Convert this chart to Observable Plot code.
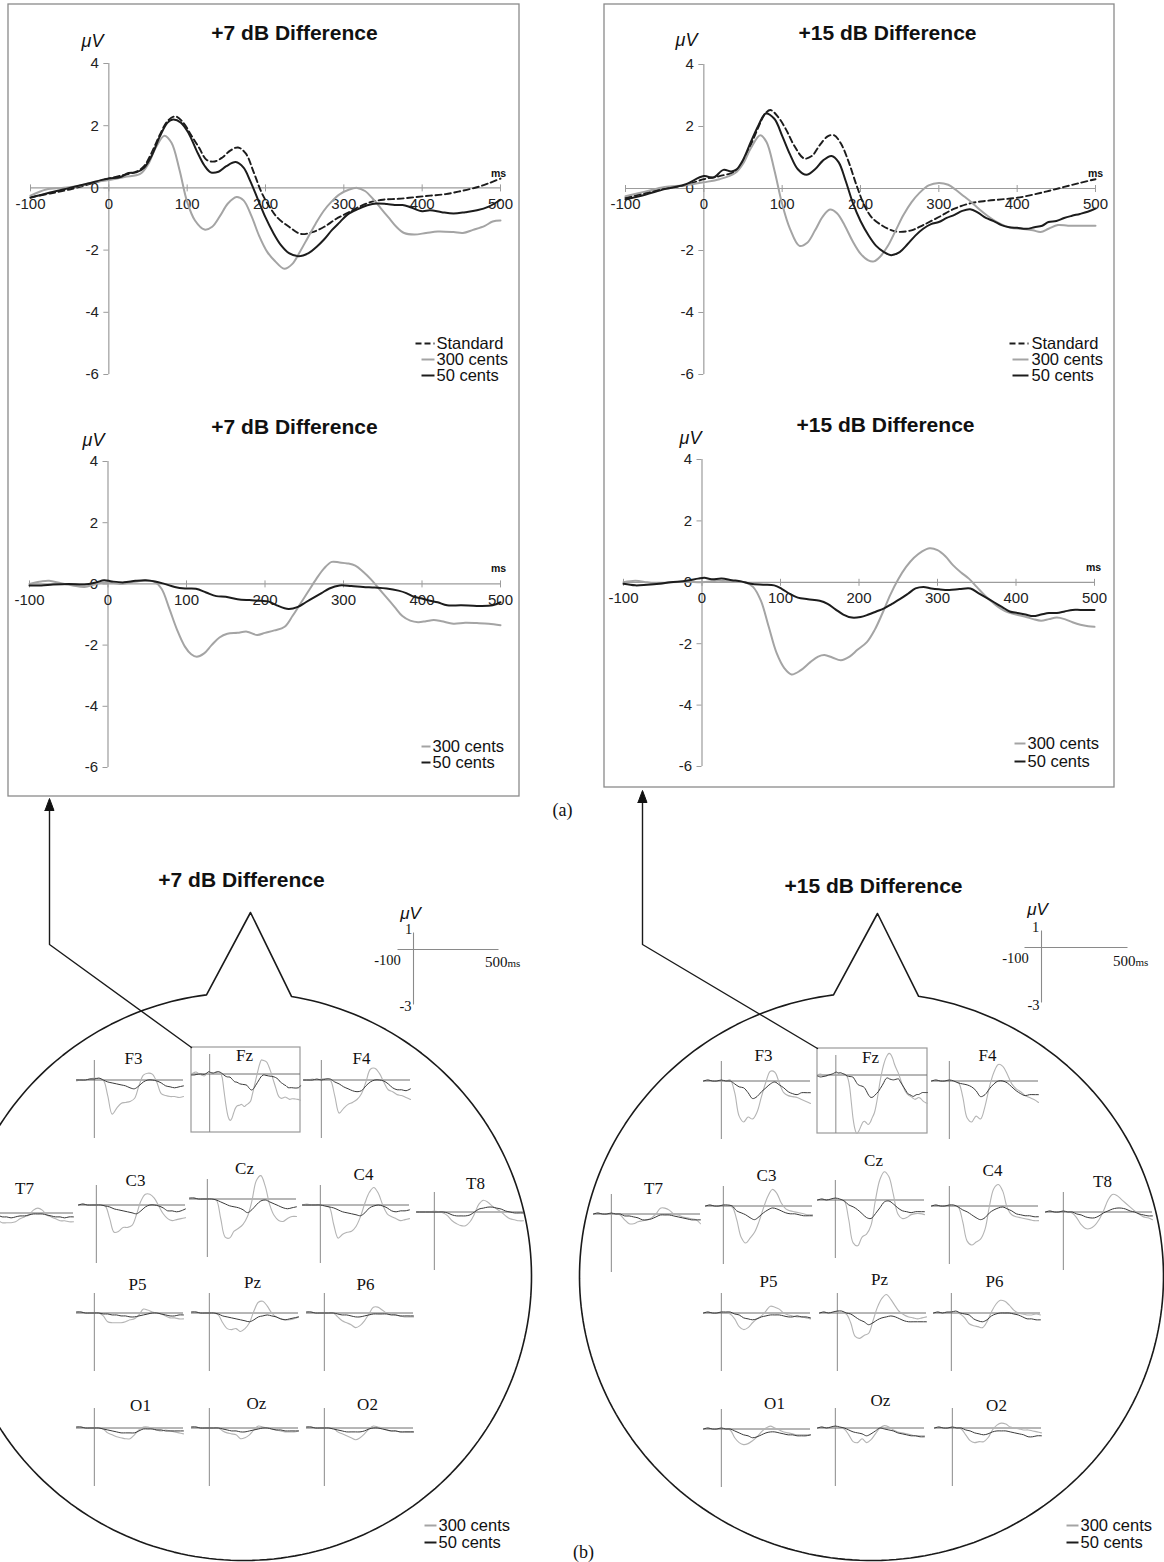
<!DOCTYPE html>
<html><head><meta charset="utf-8">
<script src="https://cdn.jsdelivr.net/npm/d3@7"></script>
<script src="https://cdn.jsdelivr.net/npm/@observablehq/plot@0.6"></script>
<style>
html,body{margin:0;padding:0;background:#fff;}
#page{position:relative;width:1164px;height:1562px;overflow:hidden;background:#fff;}
#page svg{position:absolute;}
</style></head><body><div id="page"></div>
<script>
// ---------- DATA ----------
const X_TICKS = [-100, 0, 100, 200, 300, 400, 500];
const Y_TICKS = [4, 2, 0, -2, -4, -6];
const SERIES_NAMES = ["Standard", "300 cents", "50 cents"];

// +7 dB, upper panel (grand averages) [ms, µV]
const UL_STANDARD = [[-100,-0.3],[-75,-0.18],[-50,-0.05],[-25,0.12],[0,0.3],[20,0.42],[35,0.52],[45,0.7],[55,1.15],[65,1.7],[75,2.15],[85,2.3],[95,2.1],[105,1.7],[115,1.3],[125,0.9],[135,0.85],[145,0.98],[155,1.2],[165,1.3],[175,1.1],[185,0.5],[195,-0.15],[205,-0.6],[215,-0.95],[230,-1.25],[245,-1.48],[260,-1.42],[275,-1.25],[290,-1.0],[305,-0.8],[320,-0.6],[335,-0.45],[350,-0.38],[370,-0.35],[390,-0.3],[410,-0.25],[430,-0.2],[450,-0.1],[470,0.02],[485,0.15],[500,0.3]];
const UL_300 = [[-100,-0.25],[-80,-0.05],[-60,0.0],[-40,0.05],[-20,0.18],[0,0.25],[20,0.35],[40,0.45],[50,0.75],[60,1.3],[71,1.68],[80,1.45],[90,0.6],[100,-0.45],[110,-1.05],[122,-1.34],[132,-1.25],[142,-0.9],[152,-0.5],[163,-0.29],[172,-0.4],[182,-0.9],[192,-1.55],[202,-2.05],[212,-2.35],[224,-2.6],[234,-2.45],[244,-2.05],[254,-1.6],[264,-1.15],[274,-0.75],[284,-0.45],[295,-0.2],[307,-0.05],[317,0.0],[327,-0.1],[337,-0.35],[347,-0.65],[357,-0.95],[367,-1.25],[377,-1.45],[390,-1.5],[405,-1.45],[420,-1.4],[440,-1.42],[452,-1.45],[465,-1.35],[480,-1.22],[490,-1.08],[500,-1.05]];
const UL_50 = [[-100,-0.32],[-75,-0.15],[-50,0.0],[-25,0.15],[-10,0.25],[0,0.3],[15,0.35],[25,0.48],[35,0.5],[45,0.65],[55,1.05],[65,1.65],[75,2.1],[82,2.2],[92,2.1],[102,1.75],[112,1.2],[122,0.72],[130,0.5],[140,0.52],[150,0.7],[162,0.83],[172,0.65],[180,0.25],[190,-0.35],[200,-0.95],[210,-1.45],[220,-1.85],[230,-2.1],[242,-2.2],[255,-2.1],[265,-1.9],[275,-1.65],[285,-1.35],[295,-1.1],[305,-0.85],[318,-0.68],[330,-0.56],[342,-0.5],[355,-0.52],[365,-0.55],[375,-0.55],[385,-0.62],[400,-0.75],[410,-0.72],[425,-0.78],[440,-0.82],[455,-0.78],[470,-0.72],[485,-0.6],[500,-0.38]];

// +15 dB, upper panel
const UR_STANDARD = [[-100,-0.3],[-75,-0.15],[-50,0.0],[-25,0.1],[0,0.3],[20,0.4],[40,0.55],[50,0.85],[60,1.4],[70,2.0],[78,2.4],[85,2.53],[95,2.3],[105,1.9],[115,1.4],[128,0.97],[138,1.05],[148,1.4],[158,1.68],[166,1.72],[175,1.45],[185,0.85],[195,0.1],[205,-0.55],[215,-0.95],[228,-1.2],[240,-1.35],[250,-1.4],[265,-1.35],[280,-1.18],[300,-0.92],[320,-0.65],[340,-0.48],[360,-0.4],[380,-0.35],[400,-0.3],[420,-0.2],[440,-0.08],[460,0.05],[480,0.18],[500,0.3]];
const UR_300 = [[-100,-0.25],[-75,-0.1],[-50,0.05],[-25,0.1],[0,0.2],[20,0.3],[40,0.5],[50,0.8],[60,1.3],[72,1.72],[80,1.5],[90,0.6],[100,-0.5],[110,-1.3],[122,-1.85],[132,-1.75],[142,-1.35],[152,-0.9],[161,-0.68],[170,-0.8],[180,-1.2],[190,-1.7],[200,-2.1],[210,-2.32],[217,-2.35],[225,-2.2],[235,-1.85],[245,-1.35],[255,-0.85],[265,-0.45],[275,-0.15],[287,0.1],[300,0.18],[312,0.12],[322,-0.05],[332,-0.25],[342,-0.45],[352,-0.68],[362,-0.88],[372,-1.05],[382,-1.18],[392,-1.27],[405,-1.3],[420,-1.35],[430,-1.4],[440,-1.3],[452,-1.18],[465,-1.2],[480,-1.2],[500,-1.2]];
const UR_50 = [[-100,-0.35],[-75,-0.2],[-50,-0.02],[-25,0.12],[0,0.4],[12,0.35],[25,0.6],[35,0.55],[42,0.62],[50,0.92],[60,1.5],[70,2.05],[79,2.42],[90,2.25],[100,1.7],[110,1.1],[120,0.62],[131,0.44],[142,0.62],[152,0.9],[163,1.05],[172,0.85],[181,0.25],[190,-0.45],[200,-1.05],[210,-1.5],[220,-1.85],[230,-2.05],[239,-2.15],[250,-2.05],[260,-1.8],[270,-1.52],[280,-1.3],[290,-1.15],[300,-1.08],[310,-0.95],[320,-0.85],[330,-0.72],[340,-0.67],[350,-0.78],[360,-0.95],[370,-1.05],[380,-1.18],[390,-1.25],[400,-1.27],[412,-1.3],[422,-1.25],[432,-1.2],[440,-1.08],[450,-1.05],[460,-0.95],[470,-0.88],[480,-0.82],[490,-0.75],[500,-0.65]];

// +7 dB, lower panel (difference waves, Fz)
const LL_300 = [[-100,0.0],[-85,0.08],[-75,0.1],[-60,0.02],[-45,-0.05],[-30,-0.1],[-15,0.0],[0,0.05],[15,0.0],[30,0.05],[45,0.1],[58,0.08],[68,-0.15],[78,-0.8],[88,-1.5],[98,-2.05],[106,-2.3],[113,-2.38],[122,-2.28],[132,-2.0],[142,-1.75],[152,-1.63],[165,-1.6],[177,-1.56],[190,-1.67],[200,-1.6],[212,-1.52],[225,-1.4],[235,-1.05],[245,-0.65],[255,-0.25],[265,0.15],[275,0.5],[285,0.72],[295,0.7],[305,0.67],[315,0.6],[325,0.4],[335,0.15],[345,-0.15],[355,-0.45],[365,-0.75],[375,-1.05],[385,-1.2],[395,-1.25],[405,-1.22],[415,-1.18],[425,-1.22],[440,-1.3],[455,-1.27],[470,-1.28],[485,-1.3],[500,-1.35]];
const LL_50 = [[-100,-0.05],[-85,-0.05],[-70,-0.02],[-50,0.0],[-30,-0.02],[-15,0.05],[-5,0.12],[5,0.08],[20,0.05],[35,0.1],[48,0.12],[60,0.08],[72,0.0],[85,-0.1],[98,-0.15],[112,-0.16],[125,-0.28],[138,-0.4],[150,-0.42],[165,-0.5],[180,-0.53],[195,-0.55],[205,-0.58],[215,-0.7],[230,-0.82],[242,-0.75],[252,-0.6],[262,-0.45],[272,-0.3],[282,-0.15],[295,-0.05],[310,-0.07],[325,-0.1],[340,-0.12],[355,-0.15],[370,-0.22],[380,-0.3],[390,-0.42],[400,-0.48],[410,-0.55],[420,-0.6],[432,-0.7],[450,-0.7],[470,-0.72],[490,-0.7],[500,-0.6]];

// +15 dB, lower panel (difference waves, Fz)
const LR_300 = [[-100,0.0],[-85,0.05],[-70,0.0],[-55,-0.05],[-40,0.0],[-20,0.02],[0,0.0],[20,0.05],[40,0.02],[55,0.0],[65,-0.15],[75,-0.6],[85,-1.45],[95,-2.3],[105,-2.8],[114,-3.0],[125,-2.88],[138,-2.6],[148,-2.42],[156,-2.37],[166,-2.45],[177,-2.54],[188,-2.42],[198,-2.2],[210,-1.95],[220,-1.55],[230,-1.0],[240,-0.4],[250,0.1],[260,0.5],[270,0.8],[280,1.0],[290,1.11],[300,1.05],[310,0.85],[320,0.55],[330,0.32],[340,0.12],[350,-0.15],[360,-0.42],[370,-0.65],[380,-0.85],[390,-0.98],[400,-1.05],[412,-1.12],[422,-1.2],[432,-1.25],[442,-1.2],[452,-1.15],[462,-1.2],[472,-1.3],[482,-1.38],[492,-1.43],[500,-1.45]];
const LR_50 = [[-100,-0.05],[-85,-0.1],[-70,-0.08],[-55,-0.05],[-40,0.0],[-20,0.05],[-5,0.12],[3,0.15],[12,0.1],[25,0.12],[38,0.07],[50,0.03],[62,-0.05],[78,-0.08],[92,-0.1],[102,-0.22],[112,-0.38],[122,-0.5],[135,-0.55],[150,-0.6],[160,-0.7],[170,-0.88],[180,-1.05],[191,-1.15],[202,-1.13],[212,-1.05],[222,-0.95],[232,-0.85],[242,-0.7],[252,-0.55],[262,-0.38],[272,-0.2],[282,-0.15],[292,-0.2],[302,-0.23],[315,-0.25],[328,-0.22],[342,-0.2],[352,-0.35],[362,-0.5],[372,-0.65],[382,-0.8],[392,-0.95],[402,-1.0],[412,-1.05],[422,-1.1],[432,-1.05],[442,-1.0],[452,-1.0],[462,-0.95],[472,-0.9],[482,-0.9],[500,-0.9]];

// Electrode mini plots (difference waves), sampled every 25 ms
const MINI_T = [-100,-75,-50,-25,0,25,50,75,100,125,150,175,200,225,250,275,300,325,350,375,400,425,450,475,500];
// +7 dB head
const L_F3_300 = [-0.05,0.0,0.0,0.05,0.1,0.05,0.0,-0.8,-1.75,-1.45,-1.2,-1.15,-1.1,-0.95,-0.3,0.25,0.35,0.3,-0.1,-0.7,-0.8,-0.85,-0.85,-0.9,-0.85];
const L_F3_50  = [0.0,0.0,0.0,0.05,0.05,0.1,0.0,-0.1,-0.15,-0.2,-0.25,-0.3,-0.4,-0.45,-0.3,-0.1,0.0,0.0,-0.05,-0.15,-0.3,-0.35,-0.4,-0.35,-0.3];
const L_F4_300 = [0.0,0.0,0.05,0.0,0.05,0.05,0.0,-0.8,-1.7,-1.45,-1.25,-1.15,-1.0,-0.7,-0.1,0.55,0.6,0.35,-0.1,-0.5,-0.6,-0.75,-0.8,-0.9,-1.0];
const L_F4_50  = [0.0,0.0,0.0,0.05,0.0,0.05,0.05,-0.1,-0.2,-0.35,-0.45,-0.55,-0.6,-0.55,-0.3,-0.1,0.0,0.0,-0.05,-0.2,-0.4,-0.5,-0.5,-0.55,-0.45];
const L_T7_300 = [0.0,0.05,0.0,0.0,0.0,0.0,-0.05,-0.35,-0.5,-0.5,-0.5,-0.45,-0.3,-0.2,-0.1,0.15,0.25,0.15,-0.1,-0.2,-0.3,-0.4,-0.4,-0.45,-0.45];
const L_T7_50  = [0.0,0.0,0.0,0.0,0.05,0.0,0.0,-0.1,-0.2,-0.2,-0.25,-0.2,-0.15,-0.15,-0.1,-0.05,-0.05,-0.05,-0.1,-0.15,-0.2,-0.2,-0.25,-0.2,-0.2];
const L_C3_300 = [0.0,0.05,0.0,0.0,0.0,0.0,-0.05,-0.7,-1.4,-1.35,-1.15,-1.15,-1.05,-0.5,0.2,0.55,0.55,0.35,-0.05,-0.45,-0.7,-0.8,-0.75,-0.7,-0.65];
const L_C3_50  = [0.0,0.05,0.0,0.0,0.0,0.0,-0.05,-0.1,-0.2,-0.25,-0.3,-0.35,-0.4,-0.45,-0.3,-0.1,0.0,0.0,-0.05,-0.15,-0.3,-0.3,-0.35,-0.3,-0.2];
const L_CZ_300 = [0.0,0.05,0.0,0.0,0.0,0.0,-0.05,-1.0,-1.95,-2.0,-1.65,-1.5,-1.3,-0.9,-0.1,0.95,1.2,0.65,-0.3,-0.85,-1.1,-1.15,-1.0,-0.9,-0.9];
const L_CZ_50  = [0.05,0.05,0.0,0.0,0.0,0.0,-0.05,-0.15,-0.25,-0.35,-0.4,-0.45,-0.55,-0.7,-0.55,-0.3,-0.1,-0.05,-0.15,-0.25,-0.35,-0.45,-0.5,-0.45,-0.4];
const L_C4_300 = [0.0,0.05,0.0,0.0,0.0,0.0,-0.1,-1.0,-1.7,-1.5,-1.4,-1.35,-1.1,-0.6,0.1,0.65,0.9,0.6,0.0,-0.45,-0.6,-0.7,-0.8,-0.75,-0.7];
const L_C4_50  = [0.0,0.0,0.0,0.0,0.0,-0.05,-0.1,-0.15,-0.25,-0.35,-0.4,-0.45,-0.5,-0.55,-0.4,-0.15,-0.05,0.0,-0.05,-0.15,-0.3,-0.35,-0.3,-0.3,-0.25];
const L_T8_300 = [0.0,0.0,0.0,0.0,0.05,0.0,-0.05,-0.2,-0.45,-0.6,-0.7,-0.7,-0.5,-0.1,0.4,0.6,0.5,0.3,0.15,0.0,-0.2,-0.35,-0.4,-0.45,-0.45];
const L_T8_50  = [0.0,0.0,0.0,0.0,0.0,0.0,0.0,-0.05,-0.15,-0.2,-0.2,-0.2,-0.15,0.0,0.15,0.2,0.25,0.25,0.2,0.15,0.05,0.0,-0.05,-0.05,-0.05];
const L_P5_300 = [0.05,0.05,0.0,0.0,0.0,0.0,-0.15,-0.45,-0.5,-0.5,-0.5,-0.45,-0.35,-0.3,-0.1,0.2,0.15,0.05,0.0,-0.05,-0.15,-0.25,-0.25,-0.3,-0.3];
const L_P5_50  = [0.05,0.05,0.0,0.0,0.0,0.0,-0.05,-0.05,-0.1,-0.1,-0.15,-0.15,-0.2,-0.2,-0.15,-0.1,-0.05,0.0,0.0,-0.05,-0.1,-0.15,-0.15,-0.1,-0.1];
const L_PZ_300 = [0.05,0.05,0.0,0.0,0.0,0.0,-0.1,-0.5,-0.8,-0.85,-0.8,-0.95,-0.8,-0.5,0.1,0.55,0.6,0.35,0.0,-0.2,-0.3,-0.35,-0.35,-0.3,-0.2];
const L_PZ_50  = [0.05,0.05,0.0,0.0,0.0,0.0,-0.05,-0.15,-0.2,-0.25,-0.3,-0.35,-0.4,-0.45,-0.35,-0.2,-0.15,-0.1,-0.15,-0.2,-0.3,-0.35,-0.3,-0.25,-0.2];
const L_P6_300 = [0.05,0.05,0.0,0.0,0.0,0.0,0.0,-0.2,-0.4,-0.5,-0.6,-0.75,-0.65,-0.4,-0.05,0.3,0.3,0.15,0.0,-0.05,-0.1,-0.15,-0.2,-0.2,-0.2];
const L_P6_50  = [0.05,0.05,0.0,0.0,0.0,0.0,0.0,-0.05,-0.1,-0.1,-0.15,-0.2,-0.2,-0.15,-0.1,-0.05,-0.05,-0.05,-0.05,-0.1,-0.1,-0.15,-0.15,-0.15,-0.15];
const L_O1_300 = [0.05,0.05,0.0,0.0,0.0,0.0,-0.05,-0.25,-0.35,-0.45,-0.5,-0.55,-0.55,-0.35,-0.1,0.05,0.05,-0.05,-0.1,-0.15,-0.1,-0.15,-0.2,-0.25,-0.3];
const L_O1_50  = [0.05,0.05,0.0,0.0,0.0,0.0,-0.05,-0.1,-0.15,-0.2,-0.25,-0.25,-0.25,-0.25,-0.15,-0.05,-0.05,-0.05,-0.1,-0.1,-0.15,-0.15,-0.15,-0.15,-0.15];
const L_OZ_300 = [0.05,0.05,0.0,0.0,0.0,0.0,0.0,-0.15,-0.25,-0.3,-0.35,-0.55,-0.5,-0.35,-0.1,0.1,0.05,0.0,-0.05,-0.1,-0.15,-0.2,-0.2,-0.2,-0.15];
const L_OZ_50  = [0.05,0.05,0.0,0.0,0.0,0.0,0.0,-0.05,-0.1,-0.15,-0.15,-0.2,-0.2,-0.15,-0.1,-0.05,0.0,0.0,-0.05,-0.1,-0.1,-0.15,-0.15,-0.15,-0.15];
const L_O2_300 = [0.05,0.05,0.0,0.0,0.0,0.0,0.0,-0.2,-0.3,-0.4,-0.5,-0.6,-0.5,-0.3,-0.05,0.1,0.05,0.0,-0.1,-0.15,-0.15,-0.2,-0.2,-0.2,-0.2];
const L_O2_50  = [0.05,0.05,0.0,0.0,0.0,0.0,-0.05,-0.1,-0.15,-0.2,-0.2,-0.2,-0.2,-0.15,-0.05,0.0,0.0,-0.05,-0.1,-0.15,-0.15,-0.2,-0.2,-0.2,-0.2];
// +15 dB head
const R_F3_300 = [0.0,0.05,0.0,0.0,0.0,0.0,0.05,-0.6,-1.8,-2.1,-1.85,-1.95,-1.6,-0.8,-0.05,0.5,0.45,-0.1,-0.6,-0.75,-0.8,-0.85,-0.95,-1.05,-1.15];
const R_F3_50  = [0.0,0.05,0.0,0.0,0.05,0.0,0.0,-0.15,-0.3,-0.35,-0.6,-0.9,-0.8,-0.55,-0.35,-0.15,-0.05,-0.2,-0.35,-0.55,-0.65,-0.7,-0.6,-0.6,-0.6];
const R_F4_300 = [0.0,0.05,0.0,0.0,0.05,0.0,-0.05,-0.8,-1.9,-2.1,-1.8,-1.95,-1.3,-0.3,0.45,0.85,0.75,0.35,-0.15,-0.4,-0.55,-0.75,-0.85,-0.95,-1.1];
const R_F4_50  = [0.0,0.05,0.0,0.0,0.05,0.0,-0.1,-0.15,-0.2,-0.3,-0.5,-0.8,-0.7,-0.4,-0.15,0.0,0.0,-0.1,-0.3,-0.5,-0.65,-0.75,-0.7,-0.7,-0.7];
const R_T7_300 = [0.0,0.05,0.0,0.0,0.0,0.0,-0.05,-0.3,-0.5,-0.5,-0.4,-0.35,-0.3,-0.2,0.0,0.3,0.3,0.2,0.0,-0.05,-0.15,-0.2,-0.25,-0.3,-0.5];
const R_T7_50  = [0.0,0.05,0.0,0.0,0.05,0.0,0.0,-0.1,-0.1,-0.15,-0.2,-0.3,-0.3,-0.25,-0.15,-0.05,-0.05,-0.05,-0.1,-0.15,-0.2,-0.25,-0.3,-0.3,-0.3];
const R_C3_300 = [0.0,0.05,0.0,0.0,0.05,0.0,-0.05,-0.7,-1.6,-1.9,-1.65,-1.35,-0.8,-0.1,0.5,0.85,0.65,0.15,-0.15,-0.25,-0.3,-0.35,-0.4,-0.45,-0.45];
const R_C3_50  = [0.0,0.05,0.0,0.0,0.05,0.05,0.0,-0.25,-0.35,-0.45,-0.6,-0.7,-0.55,-0.35,-0.2,-0.1,-0.15,-0.25,-0.35,-0.4,-0.4,-0.45,-0.5,-0.5,-0.5];
const R_CZ_300 = [0.0,0.05,0.0,0.0,0.05,0.0,-0.05,-1.0,-2.2,-2.35,-1.9,-1.75,-1.3,0.0,1.05,1.45,1.2,0.3,-0.7,-0.95,-0.9,-0.75,-0.7,-0.7,-0.75];
const R_CZ_50  = [0.0,0.05,0.0,0.05,0.1,0.05,-0.05,-0.25,-0.35,-0.5,-0.7,-0.9,-0.95,-0.7,-0.4,-0.1,-0.05,-0.2,-0.4,-0.55,-0.6,-0.65,-0.6,-0.6,-0.6];
const R_C4_300 = [0.0,0.05,0.0,0.0,0.05,0.0,-0.05,-0.8,-1.8,-2.0,-1.85,-1.7,-1.2,0.0,0.9,1.1,0.75,-0.1,-0.45,-0.55,-0.6,-0.65,-0.7,-0.75,-0.75];
const R_C4_50  = [0.0,0.05,0.0,0.0,0.05,0.05,-0.05,-0.2,-0.3,-0.45,-0.6,-0.7,-0.6,-0.35,-0.2,-0.1,-0.05,-0.15,-0.25,-0.4,-0.45,-0.5,-0.5,-0.55,-0.55];
const R_T8_300 = [0.0,0.05,0.0,0.0,0.05,0.0,-0.05,-0.3,-0.65,-0.85,-0.85,-0.7,-0.4,0.05,0.6,0.9,0.85,0.65,0.45,0.25,0.05,-0.1,-0.25,-0.3,-0.4];
const R_T8_50  = [0.0,0.05,0.0,0.0,0.05,0.0,0.0,-0.1,-0.15,-0.25,-0.3,-0.3,-0.2,-0.05,0.05,0.15,0.2,0.2,0.15,0.05,0.0,-0.1,-0.15,-0.2,-0.2];
const R_P5_300 = [0.0,0.05,0.0,0.0,0.05,0.0,-0.05,-0.3,-0.7,-0.85,-0.75,-0.5,-0.3,-0.15,0.1,0.35,0.3,0.2,0.0,-0.1,-0.15,-0.2,-0.2,-0.25,-0.3];
const R_P5_50  = [0.0,0.05,0.0,0.0,0.05,0.05,0.05,-0.05,-0.1,-0.25,-0.3,-0.35,-0.3,-0.2,-0.15,-0.1,-0.1,-0.1,-0.15,-0.2,-0.2,-0.15,-0.2,-0.2,-0.25];
const R_PZ_300 = [0.0,0.05,0.0,0.0,0.05,0.0,-0.05,-0.5,-1.2,-1.3,-1.15,-1.05,-0.4,0.3,0.75,0.95,0.7,0.35,0.05,-0.1,-0.2,-0.25,-0.3,-0.25,-0.2];
const R_PZ_50  = [0.0,0.05,0.0,0.05,0.1,0.1,0.0,-0.05,-0.2,-0.35,-0.45,-0.6,-0.5,-0.35,-0.25,-0.2,-0.15,-0.2,-0.3,-0.4,-0.45,-0.45,-0.45,-0.45,-0.45];
const R_P6_300 = [0.0,0.05,0.0,0.0,0.05,0.0,-0.05,-0.25,-0.55,-0.65,-0.7,-0.75,-0.45,0.05,0.45,0.65,0.6,0.4,0.15,0.0,-0.05,-0.1,-0.1,-0.05,-0.1];
const R_P6_50  = [0.0,0.05,0.0,0.05,0.05,0.1,0.0,-0.05,-0.1,-0.3,-0.4,-0.45,-0.35,-0.15,-0.05,0.0,0.0,0.0,-0.05,-0.1,-0.2,-0.3,-0.3,-0.35,-0.35];
const R_O1_300 = [0.0,0.05,0.0,0.0,0.05,0.0,-0.05,-0.45,-0.7,-0.8,-0.75,-0.6,-0.4,-0.15,0.05,0.15,0.05,-0.05,-0.15,-0.2,-0.25,-0.3,-0.3,-0.3,-0.3];
const R_O1_50  = [0.0,0.05,0.0,0.0,0.05,0.0,0.0,-0.1,-0.2,-0.3,-0.35,-0.45,-0.4,-0.3,-0.2,-0.15,-0.15,-0.2,-0.25,-0.3,-0.3,-0.35,-0.35,-0.35,-0.3];
const R_OZ_300 = [0.0,0.05,0.0,0.0,0.05,0.0,-0.05,-0.35,-0.7,-0.75,-0.55,-0.75,-0.6,-0.3,0.0,0.12,0.05,-0.1,-0.2,-0.25,-0.3,-0.35,-0.4,-0.4,-0.4];
const R_OZ_50  = [0.0,0.05,0.0,0.05,0.1,0.05,0.0,-0.1,-0.2,-0.25,-0.3,-0.4,-0.3,-0.15,0.0,-0.05,-0.1,-0.15,-0.25,-0.3,-0.35,-0.4,-0.4,-0.45,-0.45];
const R_O2_300 = [0.0,0.05,0.0,0.0,0.05,0.0,-0.05,-0.35,-0.65,-0.75,-0.7,-0.7,-0.5,-0.1,0.15,0.25,0.2,0.05,0.0,-0.05,-0.1,-0.1,-0.15,-0.2,-0.25];
const R_O2_50  = [0.0,0.05,0.0,0.0,0.05,0.0,0.0,-0.1,-0.15,-0.25,-0.3,-0.35,-0.3,-0.2,-0.15,-0.15,-0.15,-0.2,-0.25,-0.3,-0.35,-0.45,-0.45,-0.4,-0.4];

// ---------- STYLE / LAYOUT ----------
const SANS = "'Liberation Sans', Arial, Helvetica, sans-serif";
const SERIF = "'Liberation Serif', 'Times New Roman', serif";
const GREY = "#a4a4a4", DARK = "#1c1c1c", AXIS = "#9c9c9c";
const MGREY = "#b4b4b4", MDARK = "#3a3a3a";
const page = document.getElementById("page");

function place(svg, left, top) {
  svg.style.position = "absolute";
  svg.style.left = left + "px";
  svg.style.top = top + "px";
  svg.style.background = "transparent";
  svg.style.overflow = "visible";
  svg.style.maxWidth = "none";
  page.appendChild(svg);
}
const pairs = arr => arr.map(([t, v]) => ({t, v}));
const sampled = arr => MINI_T.map((t, i) => ({t, v: arr[i]}));

function bigPanel(cfg, series) {
  const mL = 50, mR = 40, mT = 25, mB = 40;
  const W = cfg.xR - cfg.xL + mL + mR;
  const H = cfg.yBot - cfg.yTop + mT + mB;
  const svg = Plot.plot({
    width: W, height: H,
    marginLeft: mL, marginRight: mR, marginTop: mT, marginBottom: mB,
    x: {domain: [-100, 500], axis: null},
    y: {domain: [-6, 4], axis: null},
    marks: [
      Plot.ruleY([0], {stroke: AXIS, strokeWidth: 1.2}),
      Plot.ruleX([0], {stroke: AXIS, strokeWidth: 1.2}),
      Plot.ruleY(Y_TICKS, {y: d => d, x1: () => 0, x2: () => 0, insetLeft: -5, stroke: AXIS}),
      Plot.ruleX(X_TICKS, {x: d => d, y1: () => 0, y2: () => 0, insetTop: -3, insetBottom: -4, stroke: AXIS}),
      Plot.text(X_TICKS, {x: d => d, y: () => 0, dy: 16, text: d => String(d), fontSize: 15, fontFamily: SANS, fill: "#222"}),
      Plot.text(Y_TICKS, {x: () => 0, y: d => d, dx: -10, textAnchor: "end", text: d => String(d), fontSize: 15, fontFamily: SANS, fill: "#222"}),
      ...series.map(s => Plot.line(pairs(s.data), {x: "t", y: "v", stroke: s.stroke, strokeWidth: s.w, strokeDasharray: s.dash, curve: "catmull-rom"}))
    ]
  });
  place(svg, cfg.xL - mL, cfg.yTop - mT);
}

function mini(cfg, g, d) {
  const w = cfg.w || 107, k = 19.5, h = 4 * k;
  const svg = Plot.plot({
    width: w, height: h, margin: 0,
    x: {domain: [-100, 500], range: [0, w], axis: null},
    y: {domain: [-3, 1], range: [h, 0], axis: null},
    marks: [
      Plot.ruleX([0], {stroke: "#8a8a8a", strokeWidth: 1}),
      Plot.ruleY([0], {stroke: "#6e6e6e", strokeWidth: 1}),
      Plot.line(g, {x: "t", y: "v", stroke: MGREY, strokeWidth: 1.1, curve: "catmull-rom"}),
      Plot.line(d, {x: "t", y: "v", stroke: MDARK, strokeWidth: 1, curve: "catmull-rom"})
    ]
  });
  place(svg, cfg.x0, cfg.base - k);
}

try {
  // ---------- overlay: frames, heads, arrows, text ----------
  const BOXES = [{x1: 8, y1: 4, x2: 519, y2: 796}, {x1: 604, y1: 4, x2: 1114, y2: 787}];
  const FZ_BOXES = [{x1: 191, y1: 1047, x2: 300, y2: 1132}, {x1: 817, y1: 1048, x2: 927, y2: 1133}];
  const HEADS = [
    {cx: 243, cy: 1276, rx: 288, ry: 284, nl: 206, nr: 291, tx: 250, ty: 912},
    {cx: 871, cy: 1276, rx: 292, ry: 284, nl: 833, nr: 918, tx: 877, ty: 913}
  ];
  const ARROWS = [
    {fx: 191, fy: 1047, ex: 49, ey: 944, tip: 798},
    {fx: 817, fy: 1048, ex: 642, ey: 944, tip: 790}
  ];
  function headPath(h) {
    const tR = -Math.acos((h.nr - h.cx) / h.rx);
    const tL = -Math.acos((h.nl - h.cx) / h.rx) + 2 * Math.PI;
    const pts = [];
    for (let i = 0; i <= 240; i++) {
      const t = tR + (tL - tR) * i / 240;
      pts.push({x: h.cx + h.rx * Math.cos(t), y: h.cy + h.ry * Math.sin(t)});
    }
    pts.push({x: h.tx, y: h.ty});
    pts.push(pts[0]);
    return pts;
  }
  const LEG_LINES = [
    // big panels
    {x1: 415, x2: 434, y: 343, s: DARK, dash: "6,3"}, {x1: 421, x2: 434, y: 359, s: GREY}, {x1: 421, x2: 434, y: 375, s: DARK},
    {x1: 421, x2: 430, y: 746, s: GREY}, {x1: 421, x2: 430, y: 762, s: DARK},
    {x1: 1009, x2: 1028, y: 343, s: DARK, dash: "6,3"}, {x1: 1012, x2: 1028, y: 359, s: GREY}, {x1: 1012, x2: 1028, y: 375, s: DARK},
    {x1: 1014, x2: 1025, y: 743, s: GREY}, {x1: 1014, x2: 1025, y: 761, s: DARK},
    // heads
    {x1: 424, x2: 436, y: 1525, s: GREY}, {x1: 424, x2: 436, y: 1542, s: DARK},
    {x1: 1066, x2: 1078, y: 1525, s: GREY}, {x1: 1066, x2: 1078, y: 1542, s: DARK}
  ];
  const SCALE_LINES = [
    {x1: 397, y1: 949, x2: 498, y2: 949}, {x1: 413, y1: 932, x2: 413, y2: 1004},
    {x1: 1024, y1: 947, x2: 1127, y2: 947}, {x1: 1041, y1: 930, x2: 1041, y2: 1002}
  ];
  const ST = {
    title: {f: SANS, s: 21, w: "bold", a: "middle"},
    uv: {f: SANS, s: 18, st: "italic", a: "middle"},
    uvs: {f: SANS, s: 17, st: "italic", a: "middle"},
    ms: {f: SANS, s: 10.5, w: "bold", a: "middle"},
    leg: {f: SANS, s: 16.5, a: "start"},
    elec: {f: SERIF, s: 17, a: "middle"},
    sc: {f: SERIF, s: 14.5, a: "middle"},
    scEnd: {f: SERIF, s: 15, a: "end"},
    scMs: {f: SERIF, s: 11, a: "start"},
    ab: {f: SERIF, s: 18, a: "middle"}
  };
  const TEXTS = [
    {x: 294, y: 33, t: "+7 dB Difference", k: "title"},
    {x: 294, y: 427, t: "+7 dB Difference", k: "title"},
    {x: 887, y: 33, t: "+15 dB Difference", k: "title"},
    {x: 885, y: 425, t: "+15 dB Difference", k: "title"},
    {x: 241, y: 880, t: "+7 dB Difference", k: "title"},
    {x: 873, y: 886, t: "+15 dB Difference", k: "title"},
    {x: 92, y: 41, t: "μV", k: "uv"}, {x: 93, y: 440, t: "μV", k: "uv"},
    {x: 686, y: 40, t: "μV", k: "uv"}, {x: 690, y: 438, t: "μV", k: "uv"},
    {x: 498, y: 173, t: "ms", k: "ms"}, {x: 498, y: 568, t: "ms", k: "ms"},
    {x: 1095, y: 173, t: "ms", k: "ms"}, {x: 1093, y: 567, t: "ms", k: "ms"},
    {x: 436, y: 343, t: SERIES_NAMES[0], k: "leg"}, {x: 436, y: 359, t: SERIES_NAMES[1], k: "leg"}, {x: 436, y: 375, t: SERIES_NAMES[2], k: "leg"},
    {x: 432, y: 746, t: SERIES_NAMES[1], k: "leg"}, {x: 432, y: 762, t: SERIES_NAMES[2], k: "leg"},
    {x: 1031, y: 343, t: SERIES_NAMES[0], k: "leg"}, {x: 1031, y: 359, t: SERIES_NAMES[1], k: "leg"}, {x: 1031, y: 375, t: SERIES_NAMES[2], k: "leg"},
    {x: 1027, y: 743, t: SERIES_NAMES[1], k: "leg"}, {x: 1027, y: 761, t: SERIES_NAMES[2], k: "leg"},
    {x: 438, y: 1525, t: SERIES_NAMES[1], k: "leg"}, {x: 438, y: 1542, t: SERIES_NAMES[2], k: "leg"},
    {x: 1080, y: 1525, t: SERIES_NAMES[1], k: "leg"}, {x: 1080, y: 1542, t: SERIES_NAMES[2], k: "leg"},
    {x: 562, y: 810, t: "(a)", k: "ab"}, {x: 583, y: 1552, t: "(b)", k: "ab"},
    // scale indicators
    {x: 410, y: 913, t: "μV", k: "uvs"}, {x: 408, y: 929, t: "1", k: "sc"}, {x: 387, y: 960, t: "-100", k: "sc"},
    {x: 507, y: 962, t: "500", k: "scEnd"}, {x: 507, y: 963, t: "ms", k: "scMs"}, {x: 405, y: 1006, t: "-3", k: "sc"},
    {x: 1037, y: 909, t: "μV", k: "uvs"}, {x: 1035, y: 927, t: "1", k: "sc"}, {x: 1015, y: 958, t: "-100", k: "sc"},
    {x: 1135, y: 961, t: "500", k: "scEnd"}, {x: 1135, y: 962, t: "ms", k: "scMs"}, {x: 1033, y: 1005, t: "-3", k: "sc"},
    // electrode labels, +7 dB head
    {x: 133, y: 1058, t: "F3", k: "elec"}, {x: 244, y: 1055, t: "Fz", k: "elec"}, {x: 361, y: 1058, t: "F4", k: "elec"},
    {x: 24, y: 1188, t: "T7", k: "elec"}, {x: 135, y: 1180, t: "C3", k: "elec"}, {x: 244, y: 1168, t: "Cz", k: "elec"},
    {x: 363, y: 1174, t: "C4", k: "elec"}, {x: 475, y: 1183, t: "T8", k: "elec"},
    {x: 137, y: 1284, t: "P5", k: "elec"}, {x: 252, y: 1282, t: "Pz", k: "elec"}, {x: 365, y: 1284, t: "P6", k: "elec"},
    {x: 140, y: 1405, t: "O1", k: "elec"}, {x: 256, y: 1403, t: "Oz", k: "elec"}, {x: 367, y: 1404, t: "O2", k: "elec"},
    // electrode labels, +15 dB head
    {x: 763, y: 1055, t: "F3", k: "elec"}, {x: 870, y: 1057, t: "Fz", k: "elec"}, {x: 987, y: 1055, t: "F4", k: "elec"},
    {x: 653, y: 1188, t: "T7", k: "elec"}, {x: 766, y: 1175, t: "C3", k: "elec"}, {x: 873, y: 1160, t: "Cz", k: "elec"},
    {x: 992, y: 1170, t: "C4", k: "elec"}, {x: 1102, y: 1181, t: "T8", k: "elec"},
    {x: 768, y: 1281, t: "P5", k: "elec"}, {x: 879, y: 1279, t: "Pz", k: "elec"}, {x: 994, y: 1281, t: "P6", k: "elec"},
    {x: 774, y: 1403, t: "O1", k: "elec"}, {x: 880, y: 1400, t: "Oz", k: "elec"}, {x: 996, y: 1405, t: "O2", k: "elec"}
  ];

  const overlayMarks = [
    Plot.rect(BOXES, {x1: "x1", y1: "y1", x2: "x2", y2: "y2", fill: "none", stroke: "#8a8a8a", strokeWidth: 1.3}),
    Plot.rect(FZ_BOXES, {x1: "x1", y1: "y1", x2: "x2", y2: "y2", fill: "none", stroke: "#9a9a9a", strokeWidth: 1.2}),
    ...HEADS.map(h => Plot.line(headPath(h), {x: "x", y: "y", stroke: "#1a1a1a", strokeWidth: 1.6, curve: "linear"})),
    ...ARROWS.map(a => Plot.line([{x: a.fx, y: a.fy}, {x: a.ex, y: a.ey}, {x: a.ex, y: a.tip + 10}], {x: "x", y: "y", stroke: "#1a1a1a", strokeWidth: 1.4})),
    ...ARROWS.map(a => Plot.line([{x: a.ex - 4.5, y: a.tip + 12}, {x: a.ex, y: a.tip}, {x: a.ex + 4.5, y: a.tip + 12}, {x: a.ex - 4.5, y: a.tip + 12}], {x: "x", y: "y", fill: "#111", stroke: "#111", strokeWidth: 1})),
    Plot.link(SCALE_LINES, {x1: "x1", y1: "y1", x2: "x2", y2: "y2", stroke: "#8a8a8a", strokeWidth: 1.1}),
    ...LEG_LINES.map(l => Plot.link([l], {x1: "x1", x2: "x2", y1: "y", y2: "y", stroke: l.s, strokeWidth: 2, strokeDasharray: l.dash})),
    ...TEXTS.map(t => {
      const s = ST[t.k];
      return Plot.text([t], {x: "x", y: "y", text: "t", fontSize: s.s, fontFamily: s.f, fontWeight: s.w || "normal", fontStyle: s.st || "normal", textAnchor: s.a, fill: "#111"});
    })
  ];
  const overlay = Plot.plot({
    width: 1164, height: 1562, margin: 0,
    x: {type: "identity", axis: null}, y: {type: "identity", axis: null},
    marks: overlayMarks
  });
  place(overlay, 0, 0);

  // ---------- big panels ----------
  const std = d => ({data: d, stroke: DARK, w: 1.9, dash: "6,3.5"});
  const g300 = d => ({data: d, stroke: GREY, w: 2});
  const d50 = d => ({data: d, stroke: DARK, w: 2});
  bigPanel({xL: 30, xR: 500, yTop: 63, yBot: 374}, [std(UL_STANDARD), g300(UL_300), d50(UL_50)]);
  bigPanel({xL: 29, xR: 500, yTop: 461, yBot: 767}, [g300(LL_300), d50(LL_50)]);
  bigPanel({xL: 625, xR: 1095, yTop: 64, yBot: 374}, [std(UR_STANDARD), g300(UR_300), d50(UR_50)]);
  bigPanel({xL: 623, xR: 1094, yTop: 459, yBot: 766}, [g300(LR_300), d50(LR_50)]);

  // ---------- electrode mini plots ----------
  mini({x0: 76, base: 1079}, sampled(L_F3_300), sampled(L_F3_50));
  mini({x0: 191, base: 1073, w: 109}, pairs(LL_300), pairs(LL_50));
  mini({x0: 303, base: 1079}, sampled(L_F4_300), sampled(L_F4_50));
  mini({x0: -34, base: 1212}, sampled(L_T7_300), sampled(L_T7_50));
  mini({x0: 78, base: 1204}, sampled(L_C3_300), sampled(L_C3_50));
  mini({x0: 189, base: 1198}, sampled(L_CZ_300), sampled(L_CZ_50));
  mini({x0: 302, base: 1204}, sampled(L_C4_300), sampled(L_C4_50));
  mini({x0: 416, base: 1211}, sampled(L_T8_300), sampled(L_T8_50));
  mini({x0: 76, base: 1312}, sampled(L_P5_300), sampled(L_P5_50));
  mini({x0: 191, base: 1312}, sampled(L_PZ_300), sampled(L_PZ_50));
  mini({x0: 306, base: 1312}, sampled(L_P6_300), sampled(L_P6_50));
  mini({x0: 76, base: 1427}, sampled(L_O1_300), sampled(L_O1_50));
  mini({x0: 191, base: 1427}, sampled(L_OZ_300), sampled(L_OZ_50));
  mini({x0: 306, base: 1427}, sampled(L_O2_300), sampled(L_O2_50));

  mini({x0: 703, base: 1080}, sampled(R_F3_300), sampled(R_F3_50));
  mini({x0: 817, base: 1074, w: 110}, pairs(LR_300), pairs(LR_50));
  mini({x0: 931, base: 1080}, sampled(R_F4_300), sampled(R_F4_50));
  mini({x0: 593, base: 1213}, sampled(R_T7_300), sampled(R_T7_50));
  mini({x0: 705, base: 1205}, sampled(R_C3_300), sampled(R_C3_50));
  mini({x0: 817, base: 1199}, sampled(R_CZ_300), sampled(R_CZ_50));
  mini({x0: 931, base: 1205}, sampled(R_C4_300), sampled(R_C4_50));
  mini({x0: 1045, base: 1211}, sampled(R_T8_300), sampled(R_T8_50));
  mini({x0: 703, base: 1312}, sampled(R_P5_300), sampled(R_P5_50));
  mini({x0: 819, base: 1312}, sampled(R_PZ_300), sampled(R_PZ_50));
  mini({x0: 933, base: 1312}, sampled(R_P6_300), sampled(R_P6_50));
  mini({x0: 703, base: 1428}, sampled(R_O1_300), sampled(R_O1_50));
  mini({x0: 817, base: 1427}, sampled(R_OZ_300), sampled(R_OZ_50));
  mini({x0: 934, base: 1427}, sampled(R_O2_300), sampled(R_O2_50));
} catch (e) {
  const pre = document.createElement("pre");
  pre.textContent = String(e && e.stack || e);
  page.appendChild(pre);
}
</script></body></html>
